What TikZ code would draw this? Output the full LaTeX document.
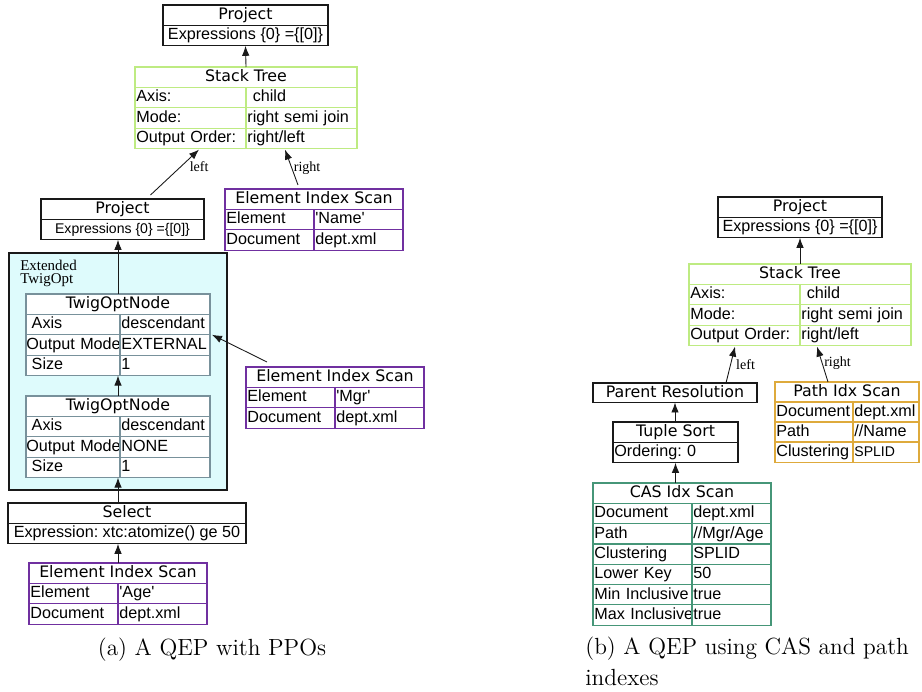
\documentclass[tikz,border=0pt]{standalone}
\usepackage{fontspec}
\usetikzlibrary{arrows.meta,calc}
\newfontfamily\titlefont{DejaVu Sans}
\newfontfamily\cellfont{Liberation Sans}[Ligatures=TeXOff]
\newfontfamily\notefont{Liberation Serif}
\newcommand{\pxl}{0.02cm}
\frenchspacing
\definecolor{ink}{RGB}{25,25,25}
\definecolor{stgreen}{RGB}{190,235,130}
\definecolor{eisviolet}{RGB}{112,48,160}
\definecolor{twigedge}{RGB}{120,145,155}
\definecolor{twigfill}{RGB}{222,251,252}
\definecolor{pathorange}{RGB}{222,170,60}
\definecolor{casteal}{RGB}{70,150,120}
\tikzset{
  opbox/.style={draw=#1,line width=0.7pt,fill=white,anchor=north west,outer sep=0pt,
    inner ysep=0pt,inner xsep=0.8pt,minimum height=20.4*\pxl,text height=7pt,text depth=2pt},
  ophead/.style={opbox=#1,font=\titlefont\fontsize{9}{10}\selectfont},
  opcell/.style={opbox=#1,font=\cellfont\fontsize{9.2}{10}\selectfont,align=left},
  opcolw/.style={text width=#1*\pxl-1.6pt},
  optight/.style={inner xsep=0.2pt,text width=#1*\pxl-0.4pt},
  opwide/.style={minimum width=#1*\pxl},
  arrow/.style={-{Latex[length=2mm,width=1.5mm]},line width=0.5pt,draw=ink},
  edgelabel/.style={font=\notefont\fontsize{8}{9}\selectfont,inner sep=1pt},
  twigarea/.style={draw=ink,fill=twigfill,line width=0.7pt,anchor=north west,inner sep=0pt,outer sep=0pt},
  twignote/.style={font={\notefont\fontsize{8.5}{7.2}\selectfont\lineskiplimit=-5pt},align=left,inner sep=0pt,anchor=north west},
  caption/.style={font=\fontsize{13.3}{17.6}\selectfont,inner sep=0pt}
}
\begin{document}
\begin{tikzpicture}[x=0.02cm,y=-0.02cm]
  \useasboundingbox (0,0) rectangle (922,692);

  % (a) plan with the TwigOpt operator
  \node[ophead=ink,opwide=165] (pjA) at (163,5) {Project};
  \node[opcell=ink,opwide=165] (pjAb) at (163,25.4) {Expressions \{0\} =\{[0]\}};

  \node[ophead=stgreen,opwide=222] (stA) at (135,67) {Stack Tree};
  \foreach \a/\b [count=\i] in {Axis:/\ child,Mode:/right semi join,Output Order:/{right/left}}{
    \node[opcell=stgreen,opcolw=111] (stA-l\i) at (135,67+20.4*\i) {\mbox{\a}};
    \node[opcell=stgreen,opcolw=111] (stA-r\i) at (246,67+20.4*\i) {\mbox{\b}};
  }

  \node[ophead=eisviolet,opwide=178] (eisN) at (225,189) {Element Index Scan};
  \foreach \a/\b [count=\i] in {Element/'Name',Document/dept.xml}{
    \node[opcell=eisviolet,opcolw=89] (eisN-l\i) at (225,189+20.4*\i) {\mbox{\a}};
    \node[opcell=eisviolet,opcolw=89] (eisN-r\i) at (314,189+20.4*\i) {\mbox{\b}};
  }

  \node[ophead=ink,opwide=163] (pjB) at (41,199) {Project};
  \node[opcell=ink,opwide=163,font=\cellfont\fontsize{8}{9}\selectfont] (pjBb) at (41,219.4) {Expressions \{0\} =\{[0]\}};

  \node[twigarea,minimum width=218*\pxl,minimum height=237*\pxl] (twig) at (9,253) {};
  \node[twignote] (twigname) at (20,260) {Extended\\TwigOpt};

  \node[ophead=twigedge,opwide=184] (tw1) at (26,294) {TwigOptNode};
  \foreach \a/\b [count=\i] in {\ Axis/descendant,Output Mode/EXTERNAL,\ Size/1}{
    \node[opcell=twigedge,optight=94] (tw1-l\i) at (26,294+20.4*\i) {\mbox{\a}};
    \node[opcell=twigedge,opcolw=90] (tw1-r\i) at (120,294+20.4*\i) {\mbox{\b}};
  }
  \node[ophead=twigedge,opwide=184] (tw2) at (26,396) {TwigOptNode};
  \foreach \a/\b [count=\i] in {\ Axis/descendant,Output Mode/NONE,\ Size/1}{
    \node[opcell=twigedge,optight=94] (tw2-l\i) at (26,396+20.4*\i) {\mbox{\a}};
    \node[opcell=twigedge,opcolw=90] (tw2-r\i) at (120,396+20.4*\i) {\mbox{\b}};
  }

  \node[ophead=eisviolet,opwide=178] (eisM) at (246,367) {Element Index Scan};
  \foreach \a/\b [count=\i] in {Element/'Mgr',Document/dept.xml}{
    \node[opcell=eisviolet,opcolw=89] (eisM-l\i) at (246,367+20.4*\i) {\mbox{\a}};
    \node[opcell=eisviolet,opcolw=89] (eisM-r\i) at (335,367+20.4*\i) {\mbox{\b}};
  }

  \node[ophead=ink,opwide=238] (sel) at (8,503) {Select};
  \node[opcell=ink,opwide=238] (selb) at (8,523.4) {Expression: xtc:atomize() ge 50};

  \node[ophead=eisviolet,opwide=178] (eisA) at (29,563) {Element Index Scan};
  \foreach \a/\b [count=\i] in {Element/'Age',Document/dept.xml}{
    \node[opcell=eisviolet,opcolw=89] (eisA-l\i) at (29,563+20.4*\i) {\mbox{\a}};
    \node[opcell=eisviolet,opcolw=89] (eisA-r\i) at (118,563+20.4*\i) {\mbox{\b}};
  }

  \draw[arrow] (stA.north) -- (pjAb.south);
  \draw[arrow] ($(pjB.north)+(28,-4)$) -- ($(stA-l3.south)+(8.5,1)$)
    node[edgelabel,pos=0.62,right=4pt] {left};
  \draw[arrow] ($(eisN.north)+(-16,-4)$) -- ($(stA-r3.south)+(-16.5,1)$)
    node[edgelabel,pos=0.49,right=0pt] {right};
  \draw[arrow] (tw1.north) -- (tw1.north |- pjBb.south);
  \draw[arrow] (tw2.north) -- (tw2.north |- tw1-l3.south);
  \draw[arrow] (sel.north -| tw2.north) -- (tw2-l3.south -| tw2.north);
  \draw[arrow] (eisA.north) -- (eisA.north |- selb.south);
  \draw[arrow] ($(eisM.north west)+(21,-5)$) -- ($(tw1-r1.south east)+(2,0)$);

  \node[caption,anchor=north] (capA) at (212,638) {(a) A QEP with PPOs};

  % (b) plan with CAS and path indexes
  \node[ophead=ink,opwide=164] (pjC) at (718,197) {Project};
  \node[opcell=ink,opwide=164] (pjCb) at (718,217.4) {Expressions \{0\} =\{[0]\}};

  \node[ophead=stgreen,opwide=222] (stB) at (689,264) {Stack Tree};
  \foreach \a/\b [count=\i] in {Axis:/\ child,Mode:/right semi join,Output Order:/{right/left}}{
    \node[opcell=stgreen,opcolw=111] (stB-l\i) at (689,264+20.4*\i) {\mbox{\a}};
    \node[opcell=stgreen,opcolw=111] (stB-r\i) at (800,264+20.4*\i) {\mbox{\b}};
  }

  \node[ophead=ink,opwide=164,minimum height=19.5*\pxl] (pr) at (593,383) {Parent Resolution};

  \node[ophead=ink,opwide=125] (ts) at (613,422) {Tuple Sort};
  \node[opcell=ink,opcolw=125] (tsb) at (613,442.4) {Ordering: 0};

  \node[ophead=pathorange,opwide=144] (pix) at (775,382) {Path Idx Scan};
  \foreach \a/\b [count=\i] in {Document/dept.xml,Path/{//Name},Clustering/{\fontsize{8}{9}\selectfont SPLID}}{
    \node[opcell=pathorange,opcolw=78] (pix-l\i) at (775,382+20*\i) {\mbox{\a}};
    \node[opcell=pathorange,opcolw=66] (pix-r\i) at (853,382+20*\i) {\mbox{\b}};
  }

  \node[ophead=casteal,opwide=178] (cas) at (593,483) {CAS Idx Scan};
  \foreach \a/\b [count=\i] in {Document/dept.xml,Path/{//Mgr/Age},Clustering/SPLID,Lower Key/50,Min Inclusive/true,Max Inclusive/true}{
    \node[opcell=casteal,opcolw=99] (cas-l\i) at (593,483+20.3*\i) {\mbox{\a}};
    \node[opcell=casteal,opcolw=79] (cas-r\i) at (692,483+20.3*\i) {\mbox{\b}};
  }

  \draw[arrow] (stB.north) -- (pjCb.south);
  \draw[arrow] ($(pr.north)+(51,0)$) -- ($(stB-l3.south)+(-9.5,1)$)
    node[edgelabel,pos=0.5,right=2pt] {left};
  \draw[arrow] ($(pix.north)+(-19,0)$) -- ($(stB-r3.south)+(-38.5,1)$)
    node[edgelabel,pos=0.54,right=0pt] {right};
  \draw[arrow] (ts.north -| pr.south) -- (pr.south);
  \draw[arrow] (cas.north -| tsb.south) -- (tsb.south);

  \node[caption,anchor=north west,align=left] (capB) at (585,637) {(b) A QEP using CAS and path\\indexes};
\end{tikzpicture}
\end{document}
